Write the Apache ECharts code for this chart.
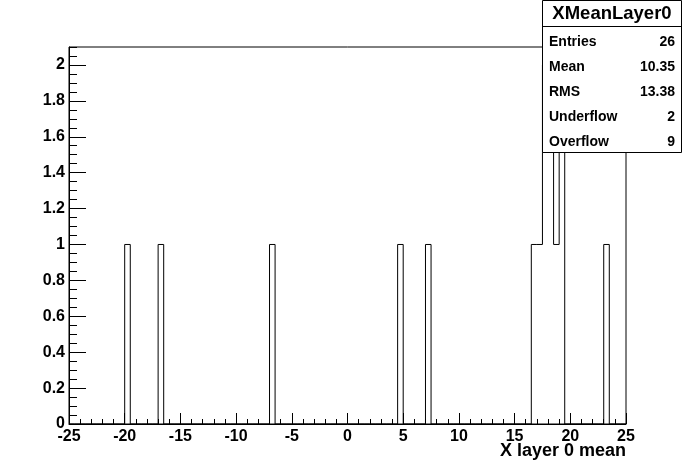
<!DOCTYPE html>
<html>
<head>
<meta charset="utf-8">
<script src="https://cdn.jsdelivr.net/npm/echarts@6/dist/echarts.min.js"></script>
<style>
html,body{margin:0;padding:0;background:#fff;}
#chart{width:696px;height:472px;}
</style>
</head>
<body>
<div id="chart"></div>
<script>
// Histogram: 100 bins of width 0.5 from -25 to 25
var xMin = -25, xMax = 25, binWidth = 0.5;
var counts = [
  0,0,0,0,0,0,0,0,0,0,
  1,0,0,0,0,0,1,0,0,0,
  0,0,0,0,0,0,0,0,0,0,
  0,0,0,0,0,0,1,0,0,0,
  0,0,0,0,0,0,0,0,0,0,
  0,0,0,0,0,0,0,0,0,1,
  0,0,0,0,1,0,0,0,0,0,
  0,0,0,0,0,0,0,0,0,0,
  0,0,0,1,1,2,2,1,2,0,
  0,0,0,0,0,0,1,0,0,0
];
var yMax = 2.1;
var histTitle = 'XMeanLayer0';
var xTitle = 'X layer 0 mean';
var statNames = ['Entries', 'Mean', 'RMS', 'Underflow', 'Overflow'];
var statValues = ['26', '10.35', '13.38', '2', '9'];

var stepData = [];
for (var i = 0; i < counts.length; i++) {
  stepData.push([xMin + i * binWidth, counts[i]]);
}
stepData.push([xMax, 0]);

var FONT = "'Liberation Sans', Arial, Helvetica, sans-serif";
var chart = echarts.init(document.getElementById('chart'), null, {renderer: 'canvas'});

var graphics = [
  {type: 'rect', z: 100, shape: {x: 542.5, y: 0.5, width: 139, height: 152}, style: {fill: '#fff', stroke: '#000', lineWidth: 1}},
  {type: 'line', z: 101, shape: {x1: 542.5, y1: 26.5, x2: 681.5, y2: 26.5}, style: {stroke: '#000', lineWidth: 1}},
  {type: 'text', z: 101, x: 612, y: 14, style: {text: histTitle, font: 'bold 18.5px ' + FONT, fill: '#000', textAlign: 'center', textVerticalAlign: 'middle'}},
  {type: 'text', z: 101, x: 626, y: 451, style: {text: xTitle, font: 'bold 18px ' + FONT, fill: '#000', textAlign: 'right', textVerticalAlign: 'middle'}}
];
for (var k = 0; k < statNames.length; k++) {
  var yy = 42 + k * 25;
  graphics.push({type: 'text', z: 101, x: 549, y: yy, style: {text: statNames[k], font: 'bold 14px ' + FONT, fill: '#000', textAlign: 'left', textVerticalAlign: 'middle'}});
  graphics.push({type: 'text', z: 101, x: 675, y: yy, style: {text: statValues[k], font: 'bold 14px ' + FONT, fill: '#000', textAlign: 'right', textVerticalAlign: 'middle'}});
}

var labelStyle = {color: '#000', fontFamily: FONT, fontWeight: 'bold', fontSize: 16};

chart.setOption({
  animation: false,
  backgroundColor: '#fff',
  grid: {left: 69, right: 70, top: 47, bottom: 48, show: true, borderColor: '#000', borderWidth: 1, backgroundColor: 'transparent'},
  xAxis: [
    {type: 'value', min: xMin, max: xMax, interval: 5, position: 'bottom',
     axisLine: {show: true, onZero: false, lineStyle: {color: '#000', width: 1}},
     axisTick: {show: true, inside: true, length: 11, lineStyle: {color: '#000'}},
     axisLabel: Object.assign({margin: 5}, labelStyle),
     splitLine: {show: false}},
    {type: 'value', min: xMin, max: xMax, interval: 1, position: 'bottom',
     axisLine: {show: false, onZero: false},
     axisTick: {show: true, inside: true, length: 5, lineStyle: {color: '#000'}},
     axisLabel: {show: false},
     splitLine: {show: false}}
  ],
  yAxis: [
    {type: 'value', min: 0, max: yMax, interval: 0.2, position: 'left',
     axisLine: {show: true, onZero: false, lineStyle: {color: '#000', width: 1}},
     axisTick: {show: true, inside: true, length: 17, lineStyle: {color: '#000'}},
     axisLabel: Object.assign({margin: 4, showMaxLabel: false}, labelStyle),
     splitLine: {show: false}},
    {type: 'value', min: 0, max: yMax, interval: 0.05, position: 'left',
     axisLine: {show: false, onZero: false},
     axisTick: {show: true, inside: true, length: 8, lineStyle: {color: '#000'}},
     axisLabel: {show: false},
     splitLine: {show: false}}
  ],
  series: [{
    type: 'line', xAxisIndex: 0, yAxisIndex: 0,
    data: stepData, step: 'end', symbol: 'none', clip: true,
    lineStyle: {color: '#000', width: 1}, z: 5
  }],
  graphic: graphics
});
</script>
</body>
</html>
